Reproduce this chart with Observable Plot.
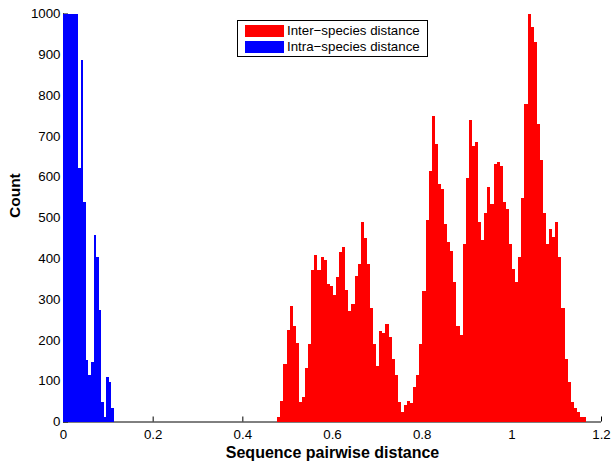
<!DOCTYPE html>
<html><head><meta charset="utf-8">
<script src="https://cdn.jsdelivr.net/npm/d3@7"></script>
<script src="https://cdn.jsdelivr.net/npm/@observablehq/plot@0.6"></script>
<style>
html,body{margin:0;padding:0;background:#fff;}
#wrap{position:relative;width:612px;height:461px;font-family:"Liberation Sans",Arial,Helvetica,sans-serif;}
#legend{position:absolute;left:237px;top:20px;width:191px;height:37px;box-sizing:border-box;border:1px solid #000;background:#fff;font-size:13.3px;color:#000;}
.sw{position:absolute;left:7px;width:39px;height:12px;}
.lab{position:absolute;left:49px;white-space:nowrap;line-height:13px;}
</style>
</head><body><div id="wrap"></div>
<script>
// ---- data ----
const seriesNames = ["Inter−species distance", "Intra−species distance"];
const seriesColors = ["#ff0000", "#0000ff"];

// Inter-species histogram: 100 equal bins between these limits
const interRange = [0.478, 1.167];
const interCounts = [
  10, 51, 142, 224, 282, 235, 193, 49, 59, 130,
  191, 372, 407, 372, 402, 397, 338, 332, 309, 353,
  415, 427, 323, 272, 288, 356, 385, 490, 449, 385,
  279, 191, 136, 221, 216, 238, 207, 154, 115, 47,
  23, 41, 51, 46, 84, 113, 191, 319, 493, 615,
  750, 679, 581, 571, 485, 441, 417, 343, 233, 213,
  436, 598, 738, 676, 686, 488, 444, 510, 574, 533,
  630, 635, 627, 537, 520, 434, 375, 343, 404, 549,
  779, 998, 968, 929, 728, 640, 512, 436, 473, 453,
  488, 404, 279, 154, 98, 49, 34, 24, 12, 10
];

// Intra-species histogram: 20 equal bins; first six exceed the axis limit (clipped at 1000)
const intraRange = [0, 0.1135];
const intraCounts = [
  2600, 2200, 1900, 1600, 1350, 1100, 622, 887, 537, 150,
  113, 145, 458, 402, 274, 47, 12, 108, 98, 34
];

const xTicks = [0, 0.2, 0.4, 0.6, 0.8, 1, 1.2];
const xTickLabels = ["0", "0.2", "0.4", "0.6", "0.8", "1", "1.2"];
const yTicks = [0, 100, 200, 300, 400, 500, 600, 700, 800, 900, 1000];
const yTickLabels = ["0", "100", "200", "300", "400", "500", "600", "700", "800", "900", "1000"];
const xTitle = "Sequence pairwise distance";
const yTitle = "Count";

// ---- build bins ----
function toBins(range, counts, series) {
  const w = (range[1] - range[0]) / counts.length;
  return counts.map((c, i) => ({x1: range[0] + i * w, x2: range[0] + (i + 1) * w, count: c, series}));
}
const data = [
  ...toBins(interRange, interCounts, seriesNames[0]),
  ...toBins(intraRange, intraCounts, seriesNames[1])
];

const font = '"Liberation Sans", Arial, Helvetica, sans-serif';
const chart = Plot.plot({
  width: 612, height: 461,
  marginLeft: 63, marginRight: 11, marginTop: 13.5, marginBottom: 39.5,
  style: {fontFamily: font, fontSize: "13.3px", color: "#000", background: "#fff", overflow: "visible"},
  x: {domain: [0, 1.2]},
  y: {domain: [0, 1000], clamp: true},
  color: {domain: seriesNames, range: seriesColors},
  marks: [
    Plot.axisX({ticks: xTicks, tickFormat: d => xTickLabels[xTicks.indexOf(d)], tickSize: 0, tickPadding: 8, label: null}),
    Plot.axisY({ticks: yTicks, tickFormat: d => yTickLabels[yTicks.indexOf(d)], tickSize: 0, tickPadding: 3, label: null}),
    Plot.axisX({ticks: xTicks, tickSize: -5, fill: "none", label: null}),
    Plot.axisY({ticks: yTicks, tickSize: -5, fill: "none", label: null}),
    Plot.ruleY([0], {stroke: "#000"}),
    Plot.ruleX([0], {stroke: "#000"}),
    Plot.rectY(data, {x1: "x1", x2: "x2", y: "count", fill: "series", shapeRendering: "crispEdges"}),
    Plot.text([xTitle], {text: d => d, frameAnchor: "bottom", dy: 30.5, fontWeight: "bold", fontSize: 16, lineAnchor: "middle", fill: "#000"}),
    Plot.text([yTitle], {text: d => d, frameAnchor: "left", dx: -48, rotate: -90, fontWeight: "bold", fontSize: 15.5, lineAnchor: "middle", fill: "#000"})
  ]
});
const wrap = document.getElementById("wrap");
wrap.appendChild(chart);

// legend overlay inside the axes
const legend = document.createElement("div");
legend.id = "legend";
seriesNames.forEach((name, i) => {
  const sw = document.createElement("div");
  sw.className = "sw";
  sw.style.top = (4 + 16 * i) + "px";
  sw.style.background = seriesColors[i];
  const lab = document.createElement("div");
  lab.className = "lab";
  lab.style.top = (3 + 16 * i) + "px";
  lab.textContent = name;
  legend.appendChild(sw);
  legend.appendChild(lab);
});
wrap.appendChild(legend);
</script>
</body></html>
